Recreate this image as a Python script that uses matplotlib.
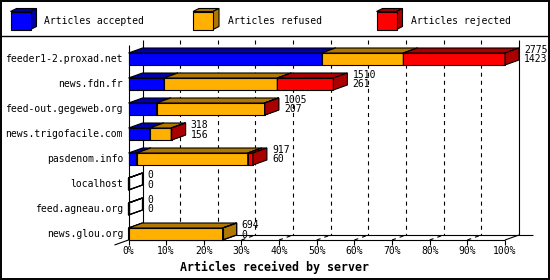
import matplotlib
matplotlib.use('Agg')
import matplotlib.pyplot as plt
from matplotlib.patches import Polygon, Rectangle

plt.rcParams['lines.scale_dashes'] = False
plt.rcParams['font.family'] = ['DejaVu Sans Mono']

# ---------------- data ----------------
servers = ["feeder1-2.proxad.net", "news.fdn.fr", "feed-out.gegeweb.org",
           "news.trigofacile.com", "pasdenom.info", "localhost",
           "feed.agneau.org", "news.glou.org"]
accepted = [1423, 261, 207, 156, 60, 0, 0, 0]
refused = [603, 836, 796, 159, 819, 0, 0, 694]
rejected = [749, 413, 2, 3, 38, 0, 0, 0]
series_names = ["Articles accepted", "Articles refused", "Articles rejected"]
tick_pcts = [0, 10, 20, 30, 40, 50, 60, 70, 80, 90, 100]
tick_labels = ["0%", "10%", "20%", "30%", "40%", "50%", "60%", "70%", "80%", "90%", "100%"]
xlabel = "Articles received by server"

# ---------------- style ----------------
front_cols = ["#0000ff", "#ffb000", "#ff0000"]
dark_cols = ["#0000aa", "#b07800", "#aa0000"]
FS = 7.0
LW = 0.8

W, H = 550, 280
fig = plt.figure(figsize=(W / 100, H / 100), dpi=100)
fig.patch.set_facecolor('white')

ov = fig.add_axes([0, 0, 1, 1])
ov.set_xlim(0, W)
ov.set_ylim(H, 0)
ov.axis('off')

# plot area (front plane)
x0p, x1p = 128.5, 505.0
ytop_px, ybot_px = 40.0, 240.0
row_px = 25.0
first_center = 59.0
ax = fig.add_axes([x0p / W, (H - ybot_px) / H, (x1p - x0p) / W, (ybot_px - ytop_px) / H])
ax.set_xlim(0, 100)
ybot = (ybot_px - first_center) / row_px
ytop = (ytop_px - first_center) / row_px
ax.set_ylim(ybot, ytop)
ax.axis('off')

px_x = (x1p - x0p) / 100.0
dx = 14.0 / px_x
dy = 5.0 / row_px
hh = 6.0 / row_px
PT = 0.72  # points per pixel

def line(xs, ys, **kw):
    kw.setdefault('color', 'black')
    kw.setdefault('lw', LW)
    ax.plot(xs, ys, clip_on=False, solid_capstyle='butt', **kw)

# back wall grid lines (dashed)
for p in tick_pcts[1:-1]:
    line([p + dx, p + dx], [ytop, ybot - dy], dashes=(2.9, 2.9), zorder=1)
    line([p, p + dx], [ybot, ybot - dy], dashes=(2.9, 2.9), zorder=1)
# back wall edges
line([dx, dx], [ytop, ybot - dy], zorder=1)
line([100 + dx, 100 + dx], [ytop, ybot - dy], zorder=1)
line([dx, 100 + 2 * dx], [ybot - dy, ybot - dy], zorder=1)
# front axes
line([0, 0], [ytop + dy, ybot], zorder=2)
line([0, 100], [ybot, ybot], zorder=2)
line([100, 100 + dx], [ybot, ybot - dy], zorder=2)
line([0, -dx], [ybot, ybot + dy], zorder=2)
for p, lab in zip(tick_pcts, tick_labels):
    line([p, p], [ybot, ybot + 5.0 / row_px], zorder=2)
    ax.annotate(lab, xy=(p, ybot), xytext=(0, -10.5 * PT), textcoords='offset points',
                ha='center', va='center', fontsize=FS, annotation_clip=False)

# bars
series = [accepted, refused, rejected]
max_total = max(a + r + j for a, r, j in zip(accepted, refused, rejected))
lefts = [0.0] * len(servers)
for k, vals in enumerate(series):
    widths = [v / max_total * 100 for v in vals]
    z = 3 + k
    ax.barh(range(len(servers)), widths, left=lefts, height=2 * hh,
            color=front_cols[k], edgecolor='black', linewidth=LW, zorder=z, clip_on=False)
    for i, (l, w, v) in enumerate(zip(lefts, widths, vals)):
        t, b = i - hh, i + hh
        r = l + w
        top = [(l, t), (r, t), (r + dx, t - dy), (l + dx, t - dy)]
        side = [(r, t), (r + dx, t - dy), (r + dx, b - dy), (r, b)]
        filled = v > 0
        ax.add_patch(Polygon(top, closed=True, facecolor=dark_cols[k], fill=filled,
                             edgecolor='black', lw=LW, zorder=z, clip_on=False))
        ax.add_patch(Polygon(side, closed=True, facecolor=dark_cols[k], fill=filled,
                             edgecolor='black', lw=LW, zorder=z, clip_on=False))
    lefts = [l + w for l, w in zip(lefts, widths)]

# value labels and category labels
for i, name in enumerate(servers):
    total = accepted[i] + refused[i] + rejected[i]
    end = total / max_total * 100 + dx
    ax.annotate(str(total), xy=(end, i), xytext=(5 * PT, 9 * PT), textcoords='offset points',
                ha='left', va='center', fontsize=FS, annotation_clip=False)
    ax.annotate(str(accepted[i]), xy=(end, i), xytext=(5 * PT, -0.5 * PT), textcoords='offset points',
                ha='left', va='center', fontsize=FS, annotation_clip=False)
    ax.annotate(name, xy=(0, i), xytext=(-5.5 * PT, 0), textcoords='offset points',
                ha='right', va='center', fontsize=FS, annotation_clip=False)

fig.text(0.5, 1 - 267.0 / H, xlabel, ha='center', va='center', fontsize=8.4,
         fontweight='bold')

# legend
leg_box_x = [10.5, 193.0, 376.5]
leg_text_x = [44.5, 227.5, 411.0]
bw, bt, bb, ldx, ldy = 20.0, 11.5, 29.5, 6.0, 3.0
for k in range(3):
    x = leg_box_x[k]
    ov.add_patch(Polygon([(x, bt), (x + bw, bt), (x + bw + ldx, bt - ldy), (x + ldx, bt - ldy)],
                         closed=True, facecolor=dark_cols[k], edgecolor='black', lw=LW))
    ov.add_patch(Polygon([(x + bw, bt), (x + bw + ldx, bt - ldy), (x + bw + ldx, bb - ldy), (x + bw, bb)],
                         closed=True, facecolor=dark_cols[k], edgecolor='black', lw=LW))
    ov.add_patch(Rectangle((x, bt), bw, bb - bt, facecolor=front_cols[k], edgecolor='black', lw=LW))
    ov.text(leg_text_x[k], 20.5, series_names[k], ha='left', va='center', fontsize=FS)

# frame
ov.plot([0, W], [36, 36], color='black', lw=1.0)
ov.add_patch(Rectangle((1, 1), W - 2.5, H - 2.5, fill=False, edgecolor='black', lw=1.4))

fig.savefig('out.png', dpi=100, facecolor='white')
